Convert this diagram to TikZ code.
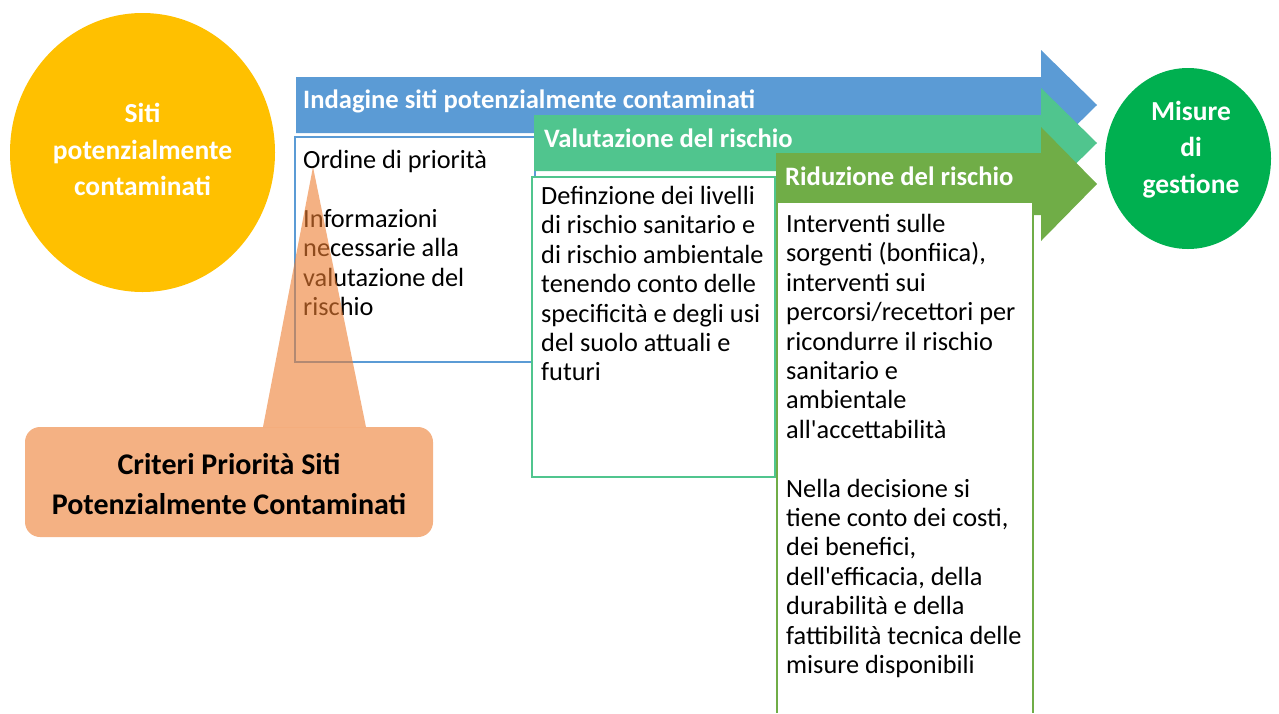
\documentclass[tikz,border=0pt]{standalone}
\usepackage{fontspec}
\setmainfont{Carlito}

\definecolor{sitiyellow}{HTML}{FFC000}
\definecolor{bandblue}{HTML}{5B9BD5}
\definecolor{bandteal}{HTML}{50C58E}
\definecolor{bandolive}{HTML}{70AD47}
\definecolor{gestgreen}{HTML}{00B050}
\definecolor{critorange}{HTML}{ED7D31}

\tikzset{
  panel/.style = {fill=white, line width=2pt},
  headtext/.style = {font=\bfseries\fontsize{26.6}{30}\selectfont, text=white, anchor=base west, inner sep=0pt},
  bodytext/.style = {font=\fontsize{26.3}{29.4}\selectfont, align=left, anchor=north west, inner sep=0pt},
  roundtext/.style = {font=\bfseries\fontsize{27.5}{36.7}\selectfont, text=white, align=center, inner sep=0pt}
}

\begin{document}
\begin{tikzpicture}[x=1pt, y=-1pt]
  \useasboundingbox (0,0) rectangle (1279,713);

  % cerchi
  \fill[sitiyellow] (142.5,152.5) ellipse [x radius=132.5, y radius=139.5];
  \node[roundtext] (siti) at (142.5,149.5) {Siti\\potenzialmente\\contaminati};
  \fill[gestgreen] (1188,158.5) ellipse [x radius=83, y radius=90.5];
  \node[roundtext] (misure) at (1191,149.5) {Misure\\di\\gestione};

  % fase 1: indagine
  \fill[bandblue] (296,77) -- (1041,77) -- (1041,50) -- (1097,105) -- (1041,160)
    -- (1041,133) -- (296,133) -- cycle;
  \node[headtext] (indagine) at (303,108) {Indagine siti potenzialmente contaminati};
  \draw[panel, draw=bandblue] (295,137) rectangle (535,362);
  \node[bodytext] (ordine) at (303,150)
    {Ordine di priorità\\[29.4pt]Informazioni\\necessarie alla\\valutazione del\\rischio};

  % fase 2: valutazione
  \fill[bandteal] (534,115) -- (1041,115) -- (1041,88) -- (1097,143) -- (1041,198)
    -- (1041,171) -- (534,171) -- cycle;
  \node[headtext] (valutazione) at (544,147) {Valutazione del rischio};
  \draw[panel, draw=bandteal] (532,177) rectangle (775,477);
  \node[bodytext] (definizione) at (541,186)
    {Definzione dei livelli\\di rischio sanitario e\\di rischio ambientale\\tenendo conto delle\\specificità e degli usi\\del suolo attuali e\\futuri};

  % fase 3: riduzione
  \fill[bandolive] (776,153) -- (1041,153) -- (1041,127) -- (1097,184) -- (1041,241)
    -- (1041,215) -- (776,215) -- cycle;
  \node[headtext] (riduzione) at (785,185) {Riduzione del rischio};
  \fill[white] (777,202) rectangle (1033,713);
  \draw[line width=2.5pt, bandolive] (777,713) -- (777,202) -- (1033,202) -- (1033,713);
  \node[bodytext] (interventi) at (786,214)
    {Interventi sulle\\sorgenti (bonfiica),\\interventi sui\\percorsi/recettori per\\ricondurre il rischio\\sanitario e\\ambientale\\all\textquotesingle accettabilità\\[29.4pt]Nella decisione si\\tiene conto dei costi,\\dei benefici,\\dell\textquotesingle efficacia, della\\durabilità e della\\fattibilità tecnica delle\\misure disponibili};

  % richiamo criteri
  \fill[critorange, fill opacity=0.6] (313,167) -- (366,427) -- (263,427) -- cycle;
  \fill[critorange, fill opacity=0.6, rounded corners=15pt] (25,427) rectangle (433,537);
  \node[font=\bfseries\fontsize{30}{40}\selectfont, align=center, inner sep=0pt] (criteri) at (229,484)
    {Criteri Priorità Siti\\Potenzialmente Contaminati};
\end{tikzpicture}
\end{document}
